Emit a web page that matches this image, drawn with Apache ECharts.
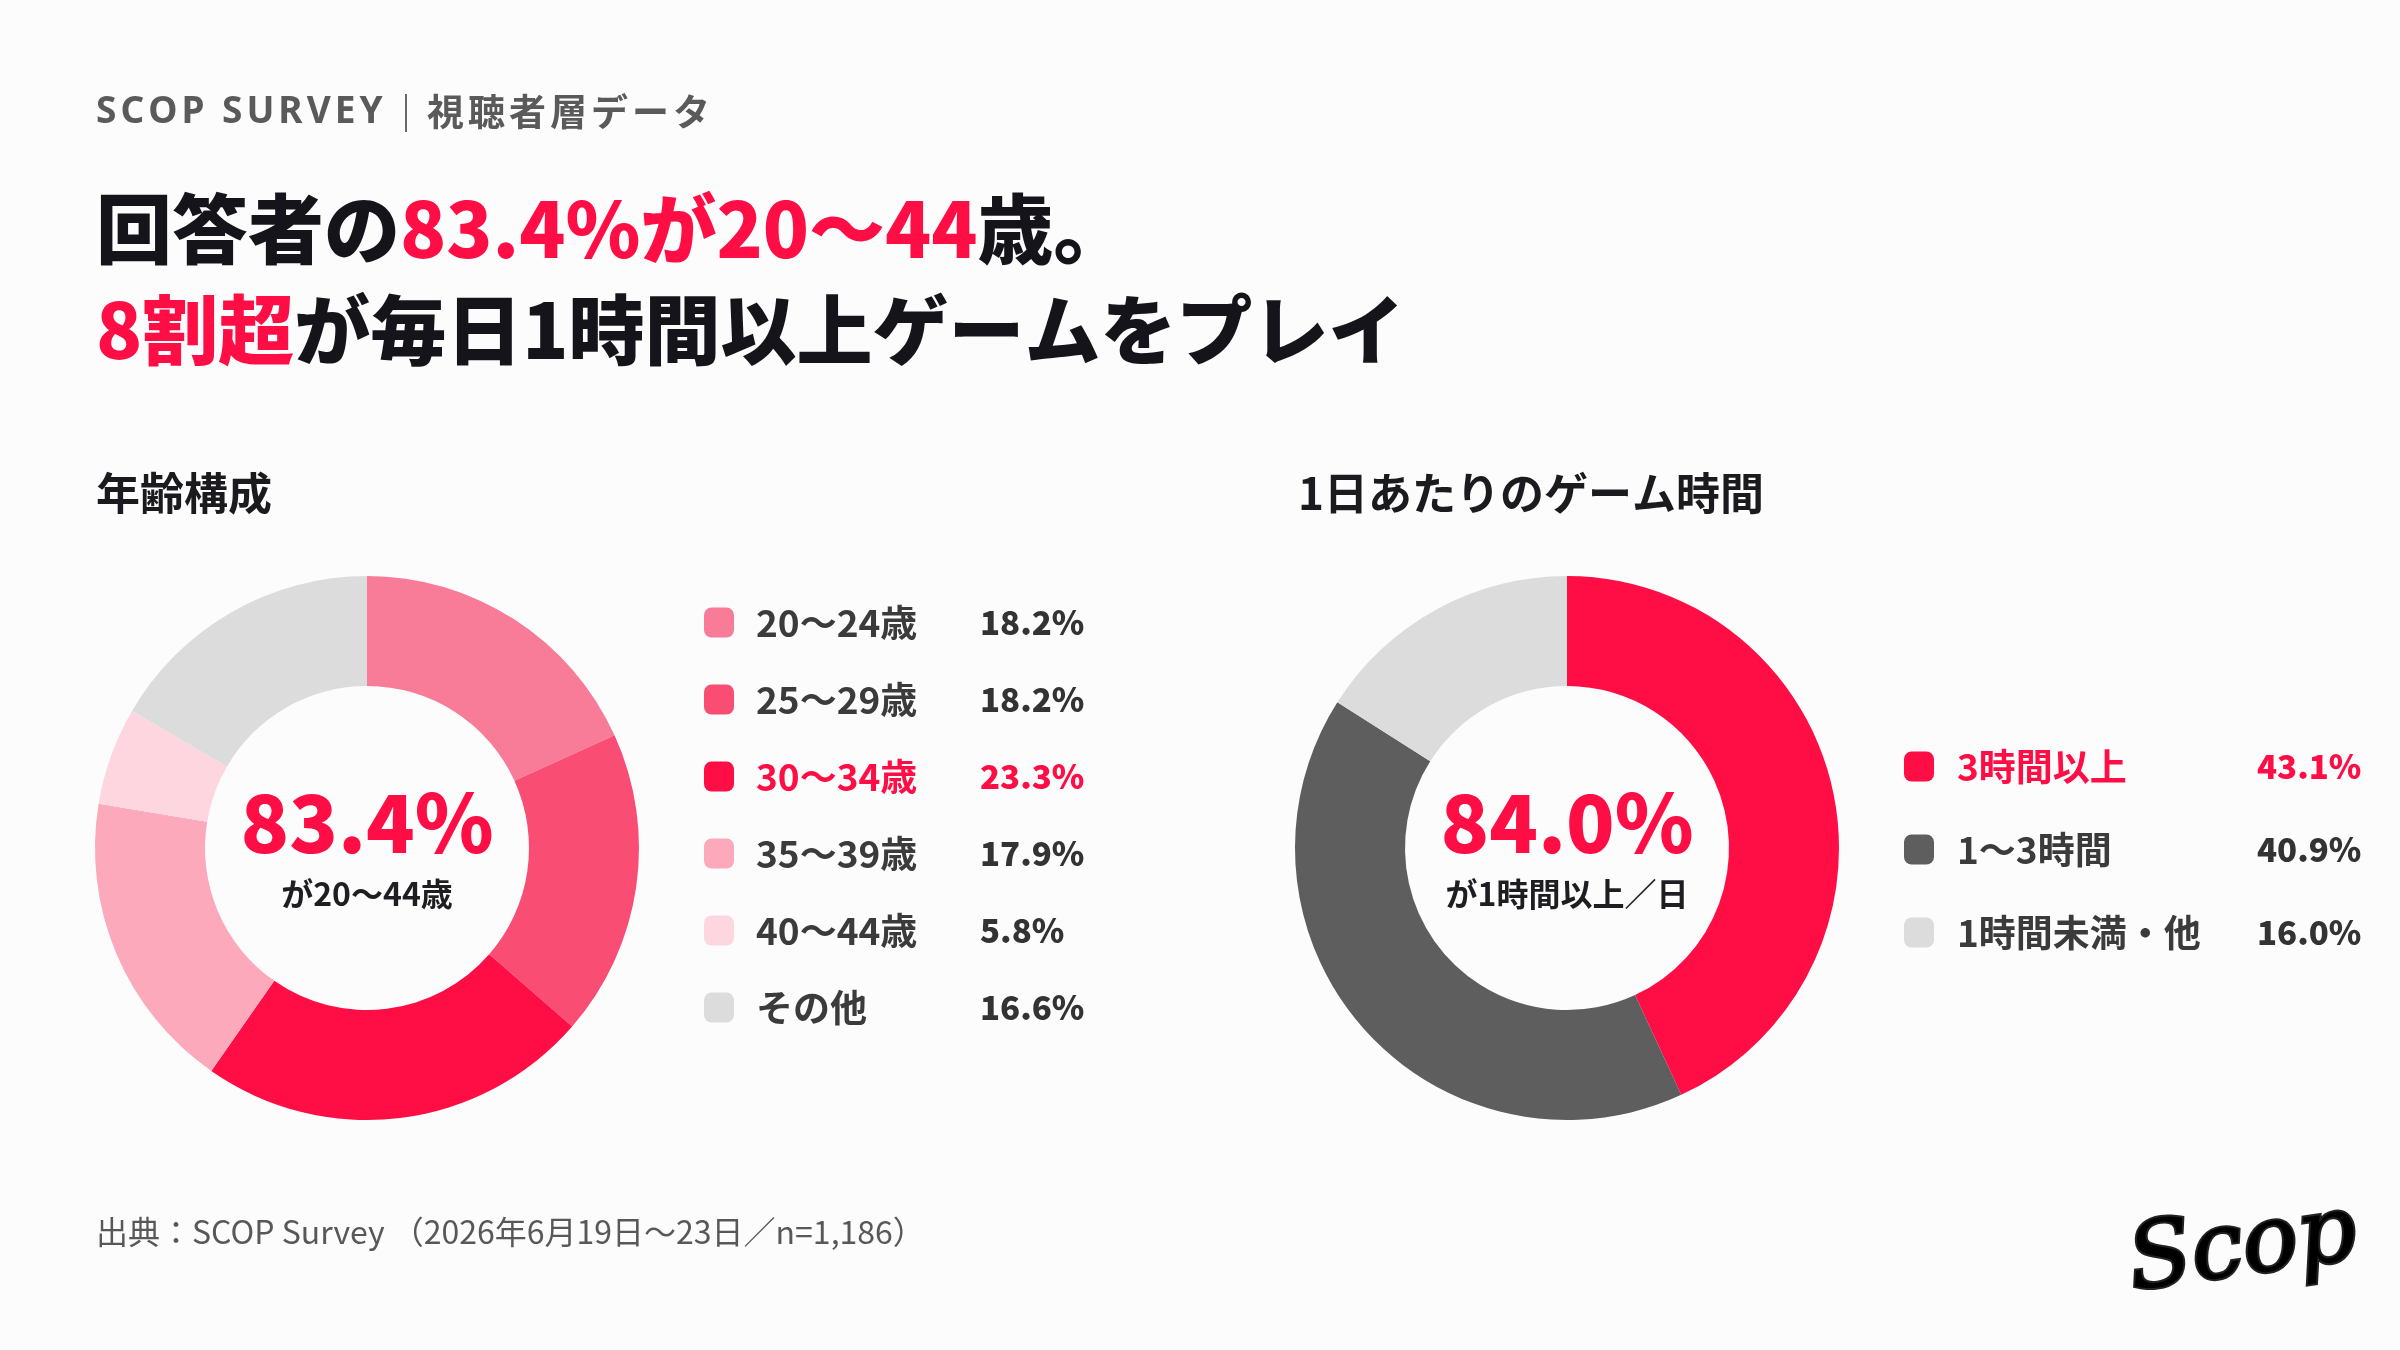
<!DOCTYPE html>
<html>
<head>
<meta charset="utf-8">
<title>SCOP SURVEY 視聴者層データ</title>
<script src="https://cdn.jsdelivr.net/npm/echarts@6/dist/echarts.min.js"></script>
<style>
  html, body { margin: 0; padding: 0; background: #fcfcfd; }
  #main { width: 2400px; height: 1350px; }
</style>
</head>
<body>
<div id="main"></div>
<script>
// 年齢構成
const ageNames = ['20〜24歳', '25〜29歳', '30〜34歳', '35〜39歳', '40〜44歳', 'その他'];
const ageValues = [18.2, 18.2, 23.3, 17.9, 5.8, 16.6];
// 1日あたりのゲーム時間
const timeNames = ['3時間以上', '1〜3時間', '1時間未満・他'];
const timeValues = [43.1, 40.9, 16.0];

// 強調する項目
const ageHighlight = '30〜34歳';
const timeHighlight = '3時間以上';

const RED = '#ff0d45';
const agePalette = ['#f87c98', '#f94d73', RED, '#fba9bb', '#fdd6df', '#dcdcdc'];
const timePalette = [RED, '#5e5e5e', '#dcdcdc'];
const FONT = '"Noto Sans CJK JP", "Noto Sans", sans-serif';

// 中央の数字（20〜44歳 / 1時間以上の合計）
const ageSum = ageValues.slice(0, 5).reduce((a, b) => a + b, 0).toFixed(1) + '%';
const timeSum = (timeValues[0] + timeValues[1]).toFixed(1) + '%';

const chart = echarts.init(document.getElementById('main'));

function pieData(names, values, palette){
  return names.map((n, i) => ({ name: n, value: values[i], itemStyle: { color: palette[i] } }));
}

// 文字ごとに区切って字間を空ける
function spaced(str){
  return str.split('').map(c => `{s|${c}}`).join('');
}

function legendOf(names, values, highlight, left, top, gap, nameWidth, gWidth){
  return {
    orient: 'vertical',
    left: left,
    top: top,
    padding: 0,
    itemWidth: 30,
    itemHeight: 30,
    itemGap: gap,
    icon: 'roundRect',
    selectedMode: false,
    data: names,
    formatter: function(name){
      const v = values[names.indexOf(name)].toFixed(1) + '%';
      if(name == highlight){
        return `{g| }{nh|${name}}{vh|${v}}`;
      }
      return `{g| }{n|${name}}{v|${v}}`;
    },
    textStyle: {
      rich: {
        g: { width: gWidth },
        n: { width: nameWidth, fontSize: 37, lineHeight: 38, color: '#3b3b3b', fontFamily: FONT, fontWeight: 700 },
        nh: { width: nameWidth, fontSize: 37, lineHeight: 38, color: RED, fontFamily: FONT, fontWeight: 700 },
        v: { fontSize: 33, lineHeight: 38, color: '#333333', fontFamily: FONT, fontWeight: 900 },
        vh: { fontSize: 33, lineHeight: 38, color: RED, fontFamily: FONT, fontWeight: 900 }
      }
    }
  };
}

const option = {
  backgroundColor: '#fcfcfd',
  animation: false,
  legend: [
    legendOf(ageNames, ageValues, ageHighlight, 704, 604, 40, 224, 17),
    legendOf(timeNames, timeValues, timeHighlight, 1904, 748, 46, 300, 18)
  ],
  series: [
    {
      name: '年齢構成',
      type: 'pie',
      center: [367, 848],
      radius: [162, 272],
      startAngle: 90,
      clockwise: true,
      silent: true,
      label: { show: false },
      labelLine: { show: false },
      data: pieData(ageNames, ageValues, agePalette)
    },
    {
      name: '1日あたりのゲーム時間',
      type: 'pie',
      center: [1567, 848],
      radius: [162, 272],
      startAngle: 90,
      clockwise: true,
      silent: true,
      label: { show: false },
      labelLine: { show: false },
      data: pieData(timeNames, timeValues, timePalette)
    }
  ],
  graphic: [
    // 上部ラベル
    {
      type: 'text', x: 96, y: 112,
      style: {
        text: spaced('SCOP SURVEY'),
        textVerticalAlign: 'middle',
        rich: { s: { fill: '#5a5a5a', fontSize: 37, fontWeight: 700, fontFamily: '"Noto Sans", sans-serif', padding: [0, 4, 0, 0] } }
      }
    },
    { type: 'line', shape: { x1: 406, y1: 94, x2: 406, y2: 132 }, style: { stroke: '#6a6a6a', lineWidth: 2 } },
    {
      type: 'text', x: 427, y: 112,
      style: {
        text: spaced('視聴者層データ'),
        textVerticalAlign: 'middle',
        rich: { s: { fill: '#5a5a5a', fontSize: 37, fontWeight: 700, fontFamily: FONT, padding: [0, 4, 0, 0] } }
      }
    },
    // 見出し
    {
      type: 'text', x: 96, y: 229,
      style: {
        text: '{k|回答者の}{r|83.4%が20〜44}{k|歳。}',
        textVerticalAlign: 'middle',
        rich: {
          k: { fill: '#16141b', fontSize: 76, fontWeight: 900, fontFamily: FONT },
          r: { fill: RED, fontSize: 76, fontWeight: 900, fontFamily: FONT }
        }
      }
    },
    {
      type: 'text', x: 96, y: 330,
      style: {
        text: '{r|8割超}{k|が毎日1時間以上ゲームをプレイ}',
        textVerticalAlign: 'middle',
        rich: {
          k: { fill: '#16141b', fontSize: 76, fontWeight: 900, fontFamily: FONT },
          r: { fill: RED, fontSize: 76, fontWeight: 900, fontFamily: FONT }
        }
      }
    },
    // セクション見出し
    { type: 'text', x: 96, y: 493, style: { text: '年齢構成', fill: '#1b1b1f', font: '700 44px ' + FONT, textVerticalAlign: 'middle' } },
    { type: 'text', x: 1298, y: 493, style: { text: '1日あたりのゲーム時間', fill: '#1b1b1f', font: '700 44px ' + FONT, textVerticalAlign: 'middle' } },
    // ドーナツ中央
    { type: 'text', x: 367, y: 823, style: { text: ageSum, fill: RED, font: '900 80px ' + FONT, textAlign: 'center', textVerticalAlign: 'middle' } },
    { type: 'text', x: 367, y: 894, style: { text: 'が20〜44歳', fill: '#1e1e22', font: '700 32px ' + FONT, textAlign: 'center', textVerticalAlign: 'middle' } },
    { type: 'text', x: 1567, y: 823, style: { text: timeSum, fill: RED, font: '900 80px ' + FONT, textAlign: 'center', textVerticalAlign: 'middle' } },
    { type: 'text', x: 1567, y: 894, style: { text: 'が1時間以上／日', fill: '#1e1e22', font: '700 32px ' + FONT, textAlign: 'center', textVerticalAlign: 'middle' } },
    // 出典
    { type: 'text', x: 96, y: 1232, style: { text: '出典：SCOP Survey （2026年6月19日〜23日／n=1,186）', fill: '#585858', font: '400 32px ' + FONT, textVerticalAlign: 'middle' } },
    // ロゴ
    {
      type: 'text', x: 2243, y: 1250, rotation: 0.14,
      style: {
        text: 'Scop',
        textAlign: 'center',
        textVerticalAlign: 'middle',
        font: 'italic 400 92px "DejaVu Serif", serif',
        fill: new echarts.graphic.LinearGradient(0, 0, 0, 1, [
          { offset: 0, color: '#ffffff' },
          { offset: 0.45, color: '#b5b5b5' },
          { offset: 0.6, color: '#f2f2f2' },
          { offset: 1, color: '#8a8a8a' }
        ]),
        stroke: '#222222',
        lineWidth: 4
      }
    }
  ]
};

chart.setOption(option);
</script>
</body>
</html>
